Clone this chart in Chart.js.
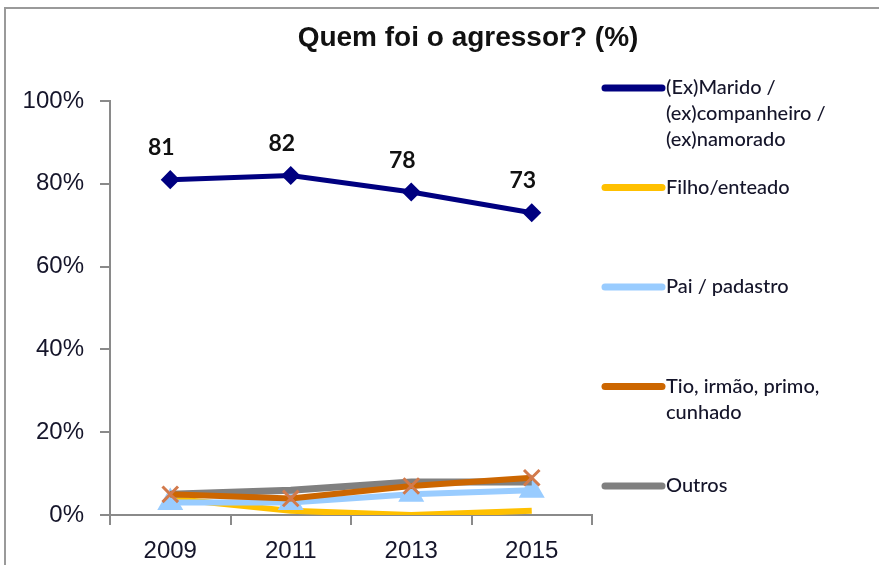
<!DOCTYPE html>
<html>
<head>
<meta charset="utf-8">
<script src="https://cdn.jsdelivr.net/npm/chart.js@4.4.1/dist/chart.umd.min.js"></script>
<style>
  body { margin: 0; background: #fff; }
  canvas { display: block; }
</style>
</head>
<body>
<canvas id="chart" width="879" height="565"></canvas>
<script>
// data (percent)
const years = ['2009', '2011', '2013', '2015'];
const marido = [81, 82, 78, 73];
const filho = [4, 1, 0, 1];
const pai = [3, 3, 5, 6];
const tio = [5, 4, 7, 9];
const outros = [5, 6, 8, 8];
const seriesNames = [
    ['(Ex)Marido /', '(ex)companheiro /', '(ex)namorado'],
    ['Filho/enteado'],
    ['Pai / padastro'],
    ['Tio, irmão, primo,', 'cunhado'],
    ['Outros'],
];
const titleText = 'Quem foi o agressor? (%)';

const axisGray = '#8a8a8a';
const textColor = '#15152a';

// frame + title
const framePlugin = {
    id: 'frame',
    beforeDraw(chart) {
        const ctx = chart.ctx;
        ctx.save();
        ctx.strokeStyle = '#9a9a9a';
        ctx.lineWidth = 2;
        ctx.strokeRect(5, 8, 1000, 1000);
        ctx.fillStyle = '#111';
        ctx.font = 'bold 28px "Liberation Sans", Arial, sans-serif';
        ctx.textAlign = 'center';
        ctx.textBaseline = 'middle';
        ctx.fillText(titleText, 468, 38);
        ctx.restore();
    }
};

// value labels over the first series
const labelPlugin = {
    id: 'valueLabels',
    afterDatasetsDraw(chart) {
        const ctx = chart.ctx;
        const meta = chart.getDatasetMeta(0);
        ctx.save();
        ctx.fillStyle = '#111';
        ctx.font = 'bold 23px Lato, "Liberation Sans", sans-serif';
        ctx.textAlign = 'center';
        ctx.textBaseline = 'middle';
        meta.data.forEach((pt, i) => {
            ctx.fillText(String(marido[i]), pt.x - 9, pt.y - 32);
        });
        ctx.restore();
    }
};

// Excel-like legend on the right, with wrapped names
const legendPlugin = {
    id: 'sideLegend',
    afterDraw(chart) {
        const ctx = chart.ctx;
        ctx.save();
        chart.data.datasets.forEach((ds, i) => {
            const y = 88 + i * 99.5;
            ctx.strokeStyle = ds.borderColor;
            ctx.lineWidth = 7;
            ctx.lineCap = 'round';
            ctx.beginPath();
            ctx.moveTo(605, y);
            ctx.lineTo(662, y);
            ctx.stroke();
            ctx.fillStyle = textColor;
            ctx.font = '500 20px Lato, "Liberation Sans", sans-serif';
            ctx.textAlign = 'left';
            ctx.textBaseline = 'middle';
            seriesNames[i].forEach((line, k) => {
                ctx.fillText(line, 666, y + k * 26);
            });
        });
        ctx.restore();
    }
};

new Chart(document.getElementById('chart'), {
    type: 'line',
    data: {
        labels: years,
        datasets: [
            {
                label: seriesNames[0].join(' '),
                data: marido,
                borderColor: '#000080',
                backgroundColor: '#000080',
                borderWidth: 5,
                pointStyle: 'rectRot',
                pointRadius: 6,
                order: 0,
            },
            {
                label: seriesNames[1].join(' '),
                data: filho,
                borderColor: '#FFC000',
                backgroundColor: '#FFC000',
                borderWidth: 6,
                pointRadius: 0,
                order: 4,
            },
            {
                label: seriesNames[2].join(' '),
                data: pai,
                borderColor: '#99CCFF',
                backgroundColor: '#99CCFF',
                borderWidth: 6,
                pointStyle: 'triangle',
                pointRadius: 9,
                order: 3,
            },
            {
                label: seriesNames[3].join(' '),
                data: tio,
                borderColor: '#CC6600',
                backgroundColor: '#CC6600',
                pointBorderColor: '#D27A4C',
                pointBorderWidth: 3,
                borderWidth: 6,
                pointStyle: 'crossRot',
                pointRadius: 11,
                order: 1,
            },
            {
                label: seriesNames[4].join(' '),
                data: outros,
                borderColor: '#808080',
                backgroundColor: '#808080',
                borderWidth: 7,
                pointRadius: 0,
                order: 2,
            },
        ]
    },
    options: {
        responsive: false,
        animation: false,
        layout: { padding: { left: 0, right: 287, top: 101, bottom: 0 } },
        plugins: {
            legend: { display: false },
            title: { display: false },
            tooltip: { enabled: false },
        },
        elements: { line: { tension: 0 } },
        scales: {
            y: {
                min: 0,
                max: 100,
                ticks: {
                    stepSize: 20,
                    callback: (v) => v + '%',
                    color: textColor,
                    font: { size: 24, family: '"Liberation Sans", Arial, sans-serif' },
                    padding: 16,
                },
                grid: { drawOnChartArea: false, tickLength: 10, color: axisGray, lineWidth: 2 },
                border: { color: axisGray, width: 2 },
                afterFit: (scale) => { scale.width = 110; },
            },
            x: {
                offset: true,
                ticks: {
                    color: textColor,
                    font: { size: 24, family: '"Liberation Sans", Arial, sans-serif' },
                    padding: 12,
                },
                grid: { offset: true, drawOnChartArea: false, tickLength: 10, color: axisGray, lineWidth: 2 },
                border: { color: axisGray, width: 2 },
                afterFit: (scale) => { scale.height = 50; },
            },
        },
    },
    plugins: [framePlugin, labelPlugin, legendPlugin],
});
</script>
</body>
</html>
